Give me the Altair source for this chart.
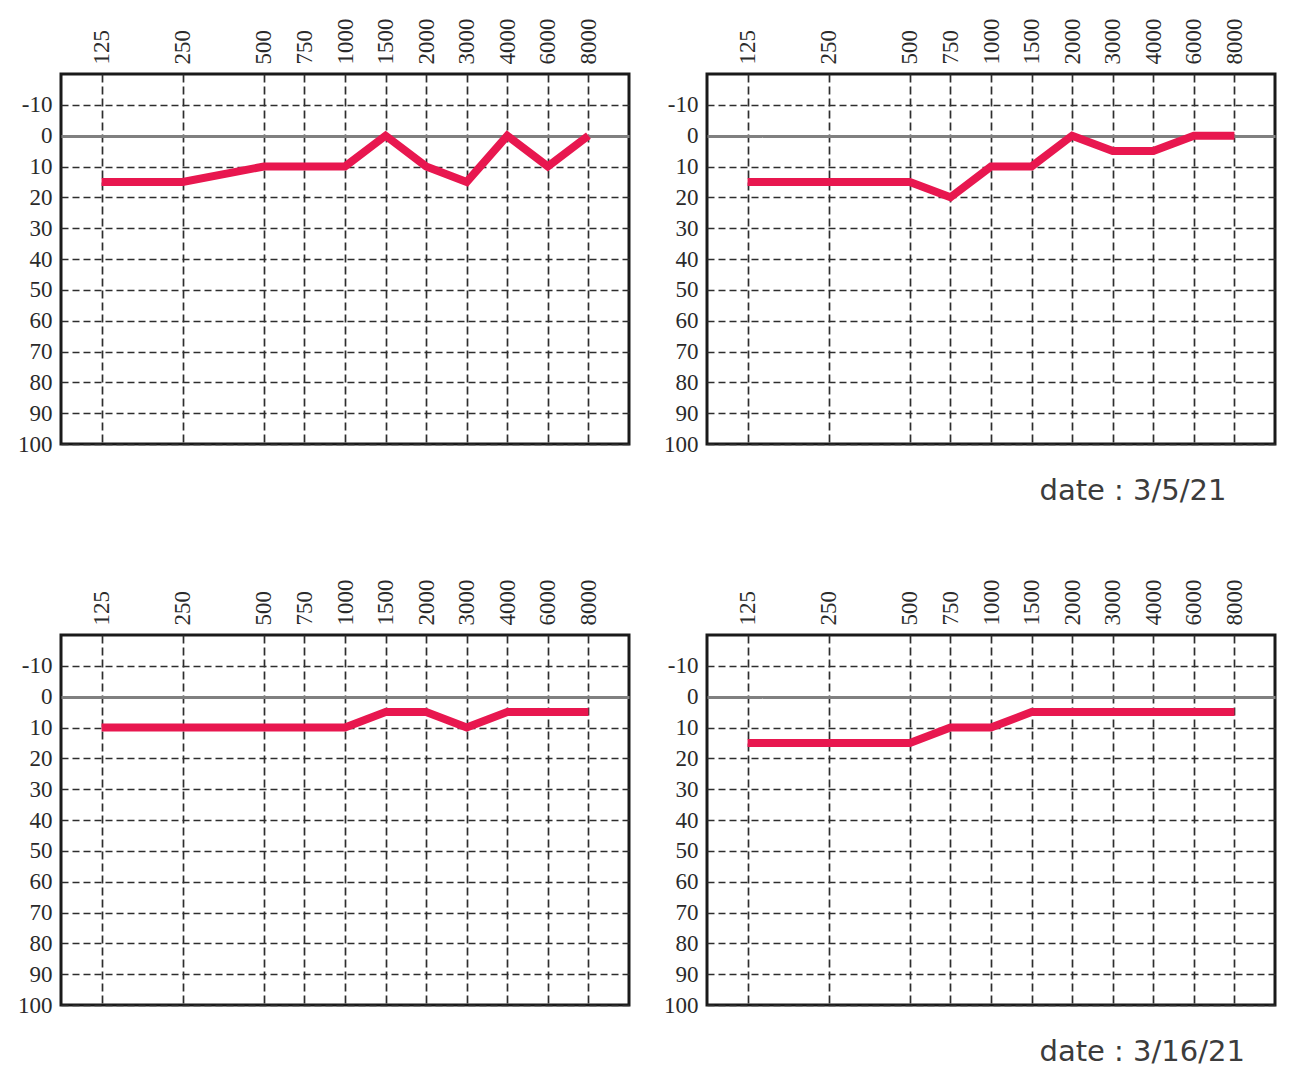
import math
import altair as alt
import pandas as pd

# ---- data ----
freqs = [125, 250, 500, 750, 1000, 1500, 2000, 3000, 4000, 6000, 8000]
freq_labels = ["125", "250", "500", "750", "1000", "1500", "2000", "3000", "4000", "6000", "8000"]
db_top_left = [15, 15, 10, 10, 10, 0, 10, 15, 0, 10, 0]
db_top_right = [15, 15, 15, 20, 10, 10, 0, 5, 5, 0, 0]
db_bottom_left = [10, 10, 10, 10, 10, 5, 5, 10, 5, 5, 5]
db_bottom_right = [15, 15, 15, 10, 10, 5, 5, 5, 5, 5, 5]
db_ticks = [-10, 0, 10, 20, 30, 40, 50, 60, 70, 80, 90, 100]
date_top = "date : 3/5/21"
date_bottom = "date : 3/16/21"

# audiogram positions: octaves with half-octave steps
positions = [round(math.log2(f / 125) * 2) / 2 for f in freqs]
label_slots = [""] * 13
for p, lab in zip(positions, freq_labels):
    label_slots[int(round(p * 2))] = lab
label_expr = "[" + ",".join("'" + s + "'" for s in label_slots) + "][round(datum.value*2)]"

LABEL_FONT = "Liberation Serif"
LINE_COLOR = "#E8174F"
GRID_COLOR = "#2e2e2e"


def panel(values, date=None):
    df = pd.DataFrame({"freq": freqs, "db": values})
    x = alt.X(
        "pos:Q",
        scale=alt.Scale(domain=[-0.5, 6.5], nice=False, zero=False),
        axis=alt.Axis(
            orient="top", values=positions, labelExpr=label_expr,
            labelAngle=270, labelAlign="left", labelBaseline="middle",
            labelPadding=10, ticks=False, domain=False, grid=True,
            gridDash=[8, 4], gridColor=GRID_COLOR, gridWidth=1.7,
            labelFont=LABEL_FONT, labelFontSize=23, labelColor="#2a2a2a",
            labelOverlap=False, title=None,
        ),
    )
    y = alt.Y(
        "db:Q",
        scale=alt.Scale(domain=[-20, 100], reverse=True, nice=False, zero=False),
        axis=alt.Axis(
            values=db_ticks, ticks=False, domain=False, grid=True,
            labelExpr="(datum.value < 0 ? '-' : '') + abs(datum.value)",
            gridDash={"condition": {"test": "datum.value === 0", "value": [1, 0]}, "value": [7, 4]},
            gridColor={"condition": {"test": "datum.value === 0", "value": "#808080"}, "value": GRID_COLOR},
            gridWidth={"condition": {"test": "datum.value === 0", "value": 3}, "value": 1.7},
            labelPadding=9, labelFont=LABEL_FONT, labelFontSize=23, labelColor="#2a2a2a",
            labelOverlap=False, title=None,
        ),
    )
    ch = (
        alt.Chart(df)
        .transform_calculate(pos="round(log(datum.freq/125)/LN2*2)/2")
        .mark_line(color=LINE_COLOR, strokeWidth=8, strokeJoin="miter")
        .encode(x=x, y=y)
        .properties(width=568, height=370)
    )
    if date:
        ch = ch.properties(
            title=alt.TitleParams(
                date, orient="bottom", anchor="start", dx=376, offset=21,
                font="DejaVu Sans", fontSize=29, fontWeight="normal", color="#3c3c3c",
            )
        )
    return ch


chart = (
    alt.concat(
        panel(db_top_left),
        panel(db_top_right, date_top),
        panel(db_bottom_left),
        panel(db_bottom_right, date_bottom),
        columns=2,
        spacing={"row": 191, "column": 78},
        bounds="flush",
    )
    .properties(padding={"left": 8, "top": 8, "right": 5, "bottom": 5}, background="white")
    .configure_view(stroke="#1a1a1a", strokeWidth=3)
)

chart.save("out.html", embed_options={"renderer": "svg", "actions": False})
